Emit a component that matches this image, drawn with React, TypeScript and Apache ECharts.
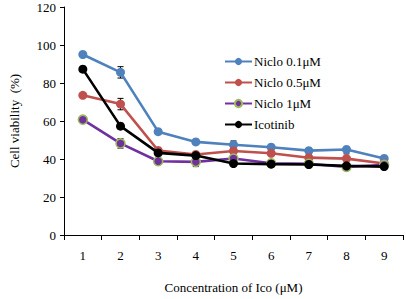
import React, { useEffect, useRef } from "react";
import * as echarts from "echarts";

const categories = ["1", "2", "3", "4", "5", "6", "7", "8", "9"];
const niclo01 = [95, 85.6, 54.4, 49, 47.5, 46.2, 44.4, 45, 40.3];
const niclo05 = [73.5, 68.9, 44.5, 42.4, 44.2, 43, 40.7, 40.2, 37.6];
const niclo1 = [60.7, 48.2, 38.8, 38.5, 40.3, 37.8, 37.5, 35.8, 37];
const icotinib = [87.3, 57.3, 43.2, 41.8, 37.6, 37.3, 37.1, 36.4, 36];
const err01 = [0.8, 3, 0.8, 0.8, 2, 0.8, 0.8, 0.8, 0.8];
const err05 = [0.8, 3, 0.8, 0.8, 1.5, 0.8, 1.5, 2.5, 0.8];
const err1 = [1.5, 2.5, 1.2, 2.5, 1.5, 0.8, 0.8, 0.8, 0.8];
const errIco = [0.6, 0.8, 0.6, 0.8, 0.6, 0.6, 0.6, 0.6, 0.6];

const seriesDefs = [
  { name: "Niclo 0.1μM", values: niclo01, errs: err01, color: "#4F81BD", border: "#4F81BD" },
  { name: "Niclo 0.5μM", values: niclo05, errs: err05, color: "#C0504D", border: "#C0504D" },
  { name: "Niclo 1μM", values: niclo1, errs: err1, color: "#7030A0", border: "#9BBB59" },
  { name: "Icotinib", values: icotinib, errs: errIco, color: "#000000", border: "#000000" },
];

const FONT = "'Liberation Serif', 'Times New Roman', serif";

export default function App() {
  const ref = useRef<HTMLDivElement>(null);
  useEffect(() => {
    const chart = echarts.init(ref.current!, null, { renderer: "svg" });
    const series: any[] = [];
    seriesDefs.forEach((s) => {
      series.push({
        type: "custom",
        name: s.name + "-err",
        data: s.values.map((v, i) => [i, v - s.errs[i], v + s.errs[i]]),
        renderItem: (params: any, api: any) => {
          const lo = api.coord([api.value(0), api.value(1)]);
          const hi = api.coord([api.value(0), api.value(2)]);
          const w = 3;
          const st = { stroke: "#000", lineWidth: 1 };
          return {
            type: "group",
            children: [
              { type: "line", shape: { x1: lo[0], y1: lo[1], x2: hi[0], y2: hi[1] }, style: st },
              { type: "line", shape: { x1: lo[0] - w, y1: lo[1], x2: lo[0] + w, y2: lo[1] }, style: st },
              { type: "line", shape: { x1: hi[0] - w, y1: hi[1], x2: hi[0] + w, y2: hi[1] }, style: st },
            ],
          };
        },
        z: 1,
        silent: true,
      });
    });
    seriesDefs.forEach((s, k) => {
      series.push({
        type: "line",
        name: s.name,
        data: s.values,
        symbol: "circle",
        symbolSize: 9,
        lineStyle: { color: s.color, width: 2.6 },
        itemStyle: { color: s.color, borderColor: s.border, borderWidth: k === 2 ? 1.5 : 0 },
        z: 2 + k,
      });
    });
    chart.setOption({
      animation: false,
      grid: { left: 61, right: 3, top: 7, bottom: 58, containLabel: false },
      legend: {
        orient: "vertical",
        left: 219,
        top: 50,
        itemWidth: 27,
        itemHeight: 9,
        itemGap: 8,
        data: seriesDefs.map((s) => s.name),
        textStyle: { fontFamily: FONT, fontSize: 13, color: "#000", padding: [0, 0, 0, -3] },
      },
      xAxis: {
        type: "category",
        data: categories,
        boundaryGap: true,
        name: "Concentration of Ico (μM)",
        nameLocation: "middle",
        nameGap: 46,
        nameTextStyle: { fontFamily: FONT, fontSize: 13, color: "#000" },
        axisLine: { lineStyle: { color: "#000", width: 1 } },
        axisTick: { show: true, length: 5, lineStyle: { color: "#000" } },
        axisLabel: { fontFamily: FONT, fontSize: 13, color: "#000", margin: 14 },
        splitLine: { show: false },
      },
      yAxis: {
        type: "value",
        min: 0,
        max: 120,
        interval: 20,
        name: "Cell viability  (%)",
        nameLocation: "middle",
        nameGap: 43,
        nameTextStyle: { fontFamily: FONT, fontSize: 13, color: "#000" },
        axisLine: { show: true, lineStyle: { color: "#000", width: 1 } },
        axisTick: { show: true, length: 4, lineStyle: { color: "#000" } },
        axisLabel: { fontFamily: FONT, fontSize: 13, color: "#000", margin: 8 },
        splitLine: { show: false },
      },
      series,
    });
    return () => chart.dispose();
  }, []);
  return <div ref={ref} style={{ width: 406, height: 299, position: "absolute", left: 0, top: 0 }} />;
}
